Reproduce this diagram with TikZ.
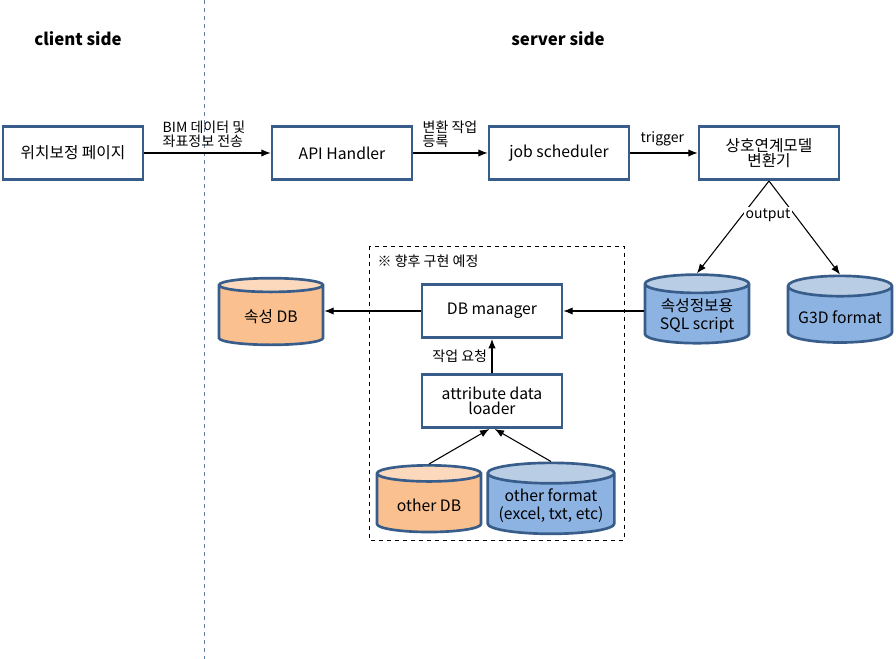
\documentclass[tikz,border=0pt]{standalone}
\usepackage{fontspec}
\setmainfont{Noto Sans CJK KR}
\usetikzlibrary{shapes.geometric,arrows.meta}
\definecolor{boxline}{HTML}{385D8A}
\definecolor{orangebody}{HTML}{FAC08F}
\definecolor{orangetop}{HTML}{FCD9BC}
\definecolor{bluebody}{HTML}{8DB3E2}
\definecolor{bluetop}{HTML}{B9CDE5}
\tikzset{
  procbox/.style={draw=boxline, line width=2pt, fill=white, minimum width=105pt, minimum height=40pt, align=center, font=\fontsize{11.8}{13.5}\selectfont},
  dbcyl/.style={cylinder, shape border rotate=90, draw=boxline, line width=2pt, aspect=0.22, minimum width=78pt, minimum height=50pt, align=center, cylinder uses custom fill, font=\fontsize{11.8}{13.5}\selectfont},
  orangedb/.style={dbcyl, cylinder body fill=orangebody, cylinder end fill=orangetop},
  bluedb/.style={dbcyl, cylinder body fill=bluebody, cylinder end fill=bluetop},
  flow/.style={-{Latex[length=7pt,width=5.5pt]}, line width=0.8pt},
  lbl/.style={font=\fontsize{10.5}{11.5}\selectfont, align=left},
}
\begin{document}
\begin{tikzpicture}[x=0.75pt, y=-0.75pt]
    \useasboundingbox (0,0) rectangle (896,659);
    % client / server divider
    \draw [boxline!80, dashed, thin] (204,0) -- (204,659);
    \node [font=\bfseries\fontsize{12.6}{14}\selectfont] (client) at (78,39) {client side};
    \node [font=\bfseries\fontsize{12.6}{14}\selectfont] (server) at (558,39) {server side};
    % future work area
    \draw [dashed, thin] (369,246) rectangle (624,540);
    \node [lbl, anchor=west] (future) at (373,261) {※ 향후 구현 예정};
    % top row
    \node [procbox] (page) at (73,153) {위치보정 페이지};
    \node [procbox] (api) at (342,153) {API Handler};
    \node [procbox] (job) at (559,153) {job scheduler};
    \node [procbox] (conv) at (769,153) {상호연계모델\\[-2pt]변환기};
    % databases
    \node [orangedb] (attrdb) at (271,317) {속성 DB};
    \node [bluedb] (sql) at (697,316) {속성정보용\\[0pt]SQL script};
    \node [bluedb] (g3d) at (840,317) {G3D format};
    \node [orangedb] (otherdb) at (429,505) {other DB};
    \node [bluedb, minimum width=95pt, aspect=0.18] (otherfmt) at (551,506) {other format\\[0pt](excel, txt, etc)};
    % managers
    \node [procbox] (dbm) at (492,311) {DB manager};
    \node [procbox] (loader) at (492,401) {attribute data\\[-2pt]loader};
    % connectors
    \draw [flow] (page) -- (api);
    \draw [flow] (api) -- (job);
    \draw [flow] (job) -- (conv);
    \node [lbl, anchor=south west] (send) at (158,152) {BIM 데이터 및\\[-1pt]좌표정보 전송};
    \node [lbl, anchor=south west] (reg) at (418,152) {변환 작업\\[-1pt]등록};
    \node [lbl, anchor=south west] (trig) at (636,151) {trigger};
    \draw [flow] (conv.south) -- (sql.north);
    \draw [flow] (conv.south) -- (g3d.north);
    \node [lbl, fill=white, inner sep=1pt] (out) at (768,215) {output};
    \draw [flow] (sql.west |- dbm) -- (dbm);
    \draw [flow] (dbm) -- (attrdb.east |- dbm);
    \draw [flow] (loader) -- (dbm) node [lbl, midway, left] {작업 요청};
    \draw [flow] (otherdb.north) -- ([xshift=-2pt]loader.south);
    \draw [flow] (otherfmt.north) -- ([xshift=2pt]loader.south);
\end{tikzpicture}
\end{document}
